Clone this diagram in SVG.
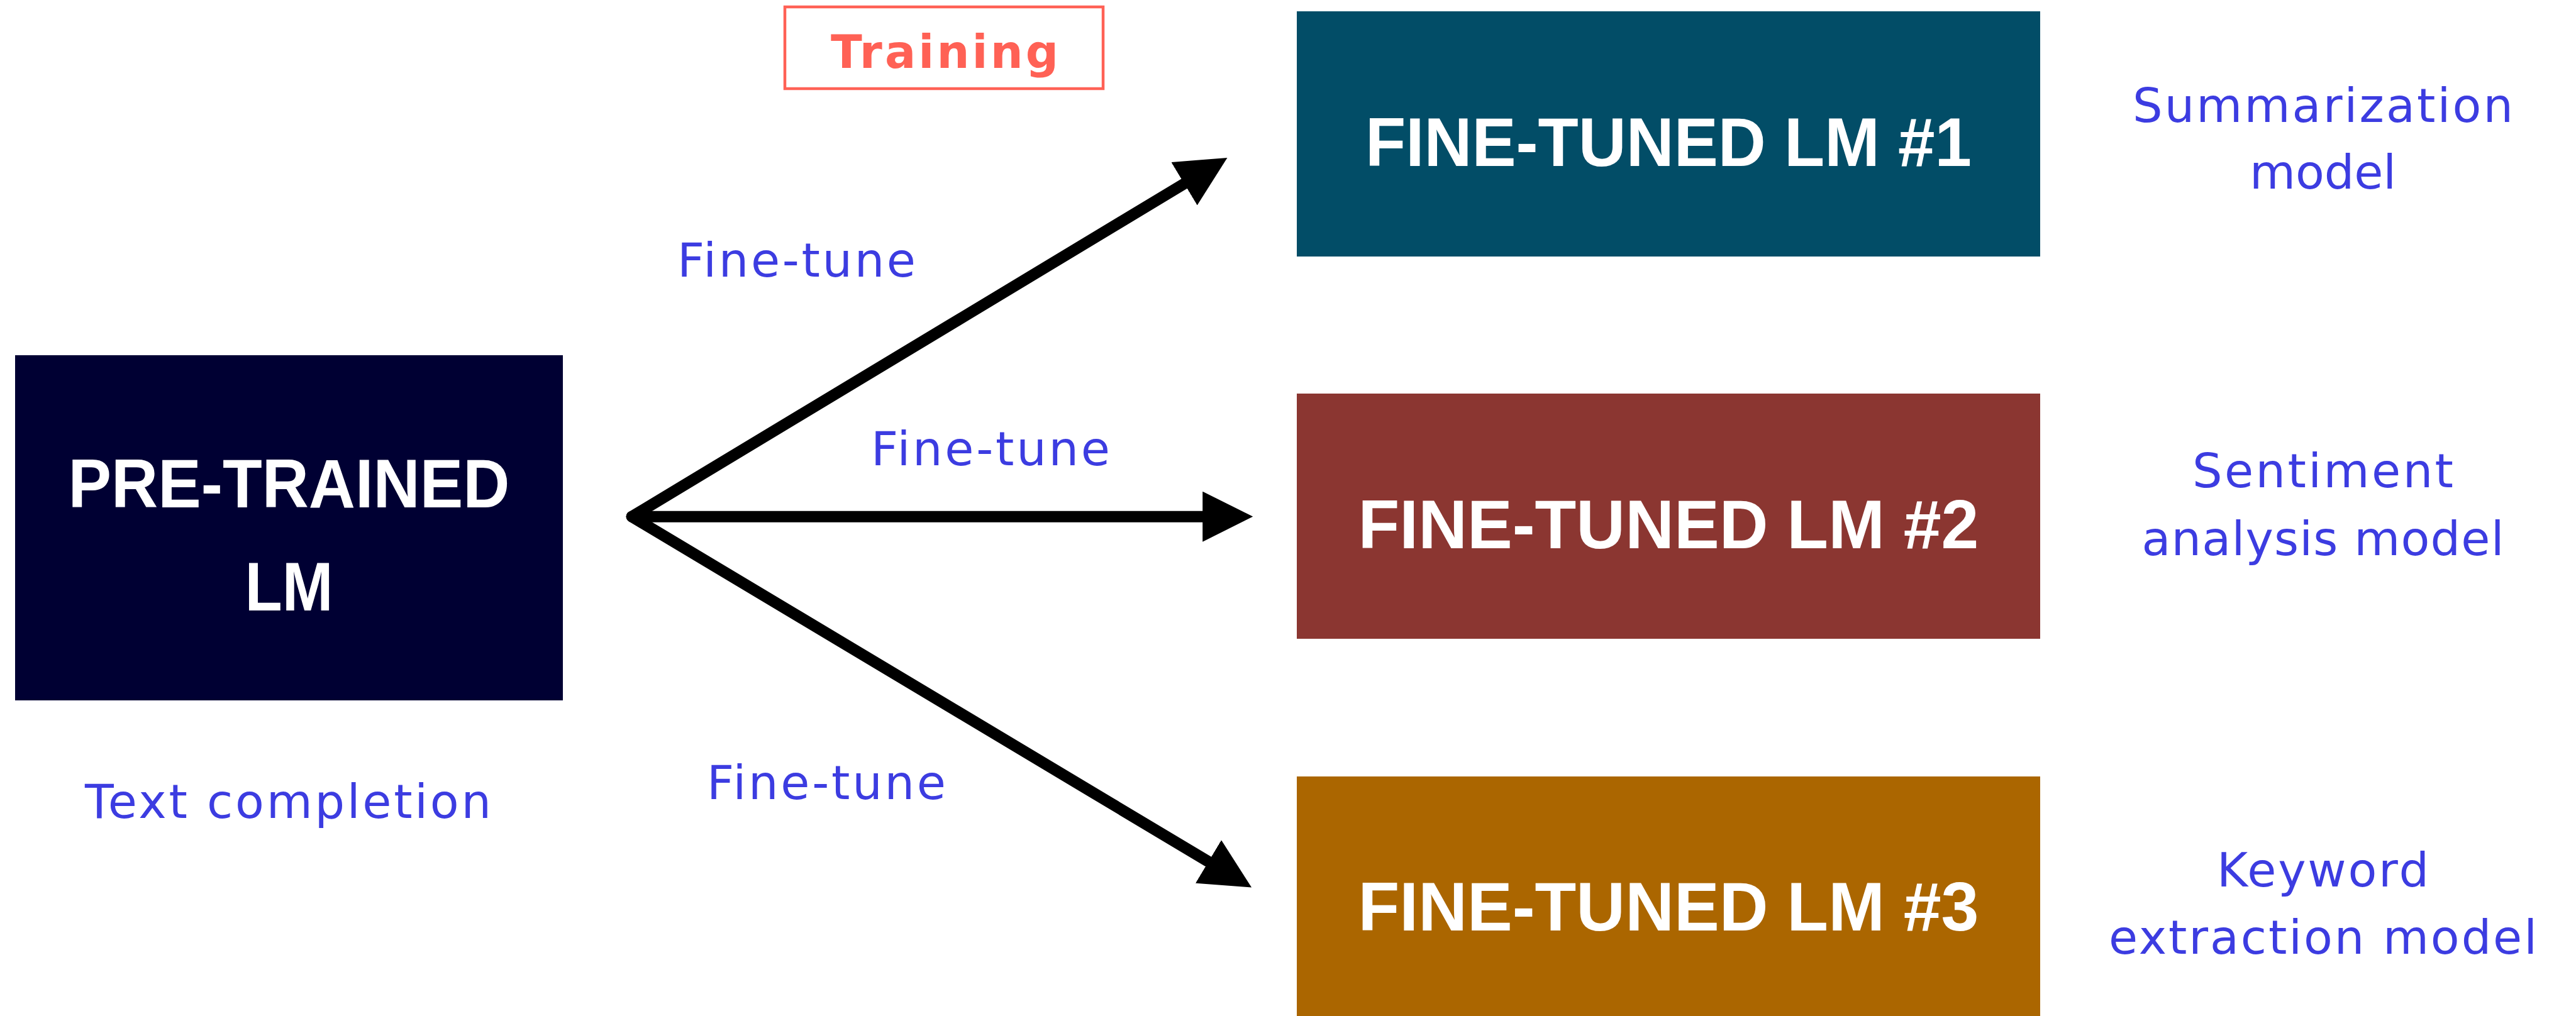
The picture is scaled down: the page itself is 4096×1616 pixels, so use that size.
<svg xmlns="http://www.w3.org/2000/svg" width="4096" height="1616" viewBox="0 0 4096 1616">
  <style>
    .box-title { font-family: "Liberation Sans", Arial, sans-serif; font-weight: 700; fill: #ffffff; text-anchor: middle; font-size: 110px; }
    .caption { font-family: "DejaVu Sans", "Liberation Sans", sans-serif; fill: #3c3ce1; font-size: 75px; }
    .center { text-anchor: middle; }
    .edge { fill: none; stroke: #000000; stroke-width: 18; stroke-linecap: round; }
  </style>
  <defs>
    <marker id="arrowhead" markerUnits="userSpaceOnUse" markerWidth="80" markerHeight="80" refX="20" refY="40" orient="auto">
      <path d="M0,0 L80,40 L0,80 Z" fill="#000000"/>
    </marker>
  </defs>
  <rect width="4096" height="1616" fill="#ffffff"/>

  <!-- Base model -->
  <g id="pretrained-lm">
    <rect x="24" y="565" width="871" height="549" fill="#000033"/>
    <text class="box-title" x="459.5" y="807" textLength="702" lengthAdjust="spacingAndGlyphs">PRE-TRAINED</text>
    <text class="box-title" x="459.5" y="971" textLength="140" lengthAdjust="spacingAndGlyphs">LM</text>
  </g>
  <text class="caption center" x="458" y="1301" textLength="646">Text completion</text>

  <!-- Stage tag -->
  <g id="training-tag">
    <rect x="1248" y="11" width="506" height="130" fill="none" stroke="#ff6155" stroke-width="4.5"/>
    <text x="1502" y="108" text-anchor="middle" font-family="'DejaVu Sans', 'Liberation Sans', sans-serif" font-weight="700" font-size="73" fill="#ff6155" textLength="362">Training</text>
  </g>

  <!-- Fine-tuned models -->
  <g id="finetuned-lm-1">
    <rect x="2062" y="18" width="1182" height="390" fill="#024d67"/>
    <text class="box-title" x="2653" y="264" textLength="964" lengthAdjust="spacingAndGlyphs">FINE-TUNED LM #1</text>
  </g>
  <g id="finetuned-lm-2">
    <rect x="2062" y="626" width="1182" height="390" fill="#8b3631"/>
    <text class="box-title" x="2653" y="872" textLength="987" lengthAdjust="spacingAndGlyphs">FINE-TUNED LM #2</text>
  </g>
  <g id="finetuned-lm-3">
    <rect x="2062" y="1235" width="1182" height="400" fill="#ab6600"/>
    <text class="box-title" x="2653" y="1480" textLength="987" lengthAdjust="spacingAndGlyphs">FINE-TUNED LM #3</text>
  </g>

  <!-- Task labels -->
  <g id="task-labels">
    <text class="caption center" x="3693.5" y="194" textLength="605">Summarization</text>
    <text class="caption center" x="3693.5" y="300" textLength="233">model</text>
    <text class="caption center" x="3693.5" y="774.5" textLength="415">Sentiment</text>
    <text class="caption center" x="3693.5" y="883" textLength="576">analysis model</text>
    <text class="caption center" x="3693.5" y="1410" textLength="337">Keyword</text>
    <text class="caption center" x="3693.5" y="1516.5" textLength="681">extraction model</text>
  </g>

  <!-- Connectors -->
  <g id="connectors">
    <path class="edge" d="M1004.7,821.7 L1900.1,281.9" marker-end="url(#arrowhead)"/>
    <path class="edge" d="M1004.7,821.7 L1932.2,821.7" marker-end="url(#arrowhead)"/>
    <path class="edge" d="M1004.7,821.7 L1938.6,1380.8" marker-end="url(#arrowhead)"/>
    <text class="caption" x="1077" y="440" textLength="379">Fine-tune</text>
    <text class="caption" x="1385" y="740" textLength="380">Fine-tune</text>
    <text class="caption" x="1124" y="1271" textLength="380">Fine-tune</text>
  </g>
</svg>
